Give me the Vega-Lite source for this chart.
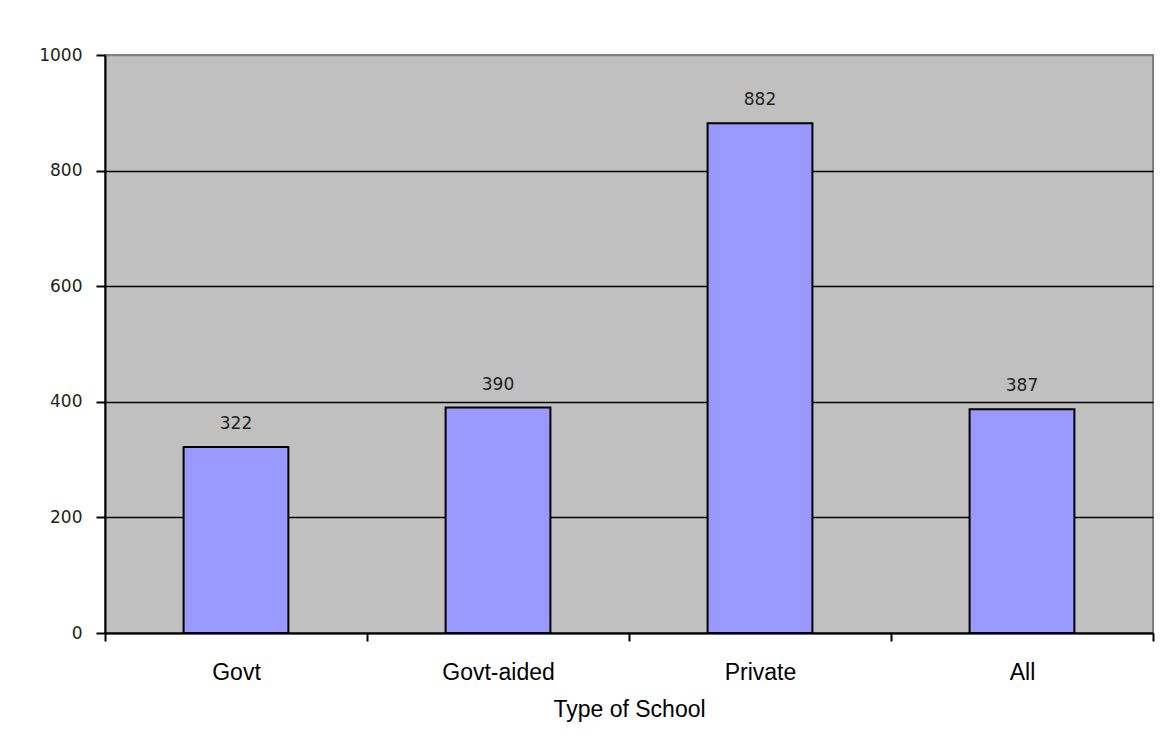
{
  "$schema": "https://vega.github.io/schema/vega-lite/v6.json",
  "autosize": {"type": "none"},
  "padding": {"left": 105, "top": 55, "right": 8, "bottom": 111},
  "width": 1048,
  "height": 578,
  "background": "white",
  "config": {
    "view": {"fill": "#C0C0C0", "stroke": "#808080", "strokeWidth": 2}
  },
  "data": {
    "values": [
      {"type": "Govt", "value": 322},
      {"type": "Govt-aided", "value": 390},
      {"type": "Private", "value": 882},
      {"type": "All", "value": 387}
    ]
  },
  "encoding": {
    "x": {
      "field": "type",
      "type": "nominal",
      "sort": null,
      "scale": {"paddingInner": 0, "paddingOuter": 0},
      "axis": {
        "title": "Type of School",
        "labelAngle": 0,
        "tickBand": "extent",
        "domainColor": "black",
        "domainWidth": 2,
        "tickColor": "black",
        "tickWidth": 2,
        "tickSize": 8,
        "labelFont": "Liberation Sans",
        "labelFontSize": 23,
        "labelColor": "black",
        "labelPadding": 20,
        "titleFont": "Liberation Sans",
        "titleFontSize": 23,
        "titleFontWeight": "normal",
        "titleColor": "black",
        "titlePadding": 14
      }
    },
    "y": {
      "field": "value",
      "type": "quantitative",
      "scale": {"domain": [0, 1000], "nice": false},
      "axis": {
        "title": null,
        "format": "d",
        "values": [0, 200, 400, 600, 800, 1000],
        "grid": true,
        "gridColor": {"condition": {"test": "datum.value === 1000", "value": "#808080"}, "value": "black"},
        "gridWidth": 1.5,
        "domainColor": "black",
        "domainWidth": 2,
        "tickColor": "black",
        "tickWidth": 2,
        "tickSize": 9,
        "labelFont": "DejaVu Sans",
        "labelFontSize": 17,
        "labelColor": "#222222",
        "labelPadding": 14
      }
    }
  },
  "layer": [
    {
      "mark": {"type": "bar", "width": {"band": 0.4}, "fill": "#9999FF", "stroke": "black", "strokeWidth": 2}
    },
    {
      "mark": {"type": "text", "font": "DejaVu Sans", "fontSize": 17, "color": "#222222", "baseline": "alphabetic", "dy": -18},
      "encoding": {"text": {"field": "value", "type": "quantitative"}}
    }
  ]
}
